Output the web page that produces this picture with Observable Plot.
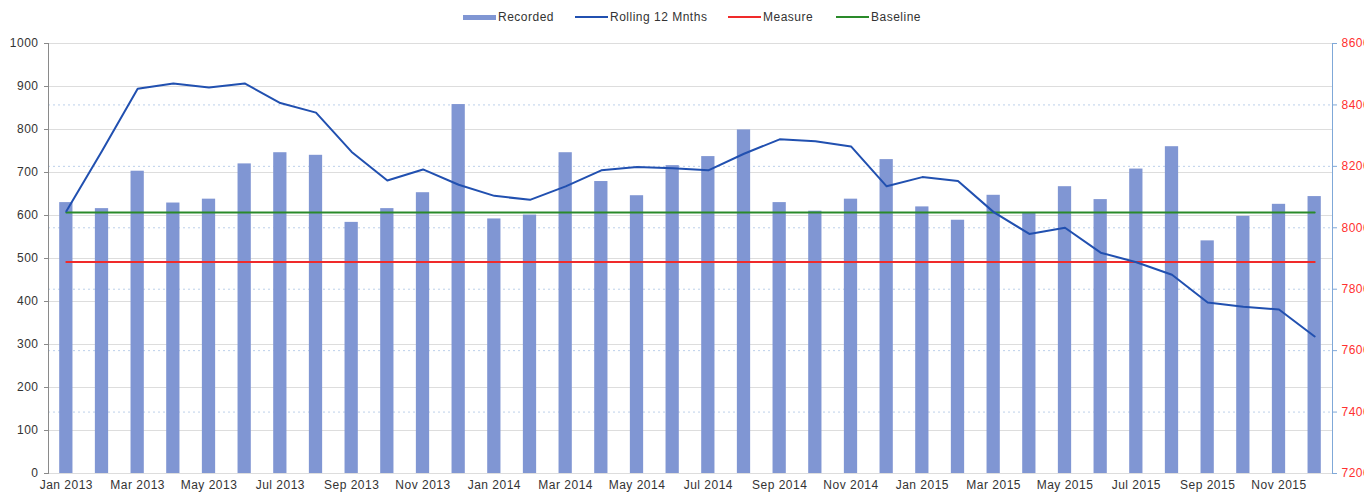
<!DOCTYPE html>
<html>
<head>
<meta charset="utf-8">
<script src="https://cdn.jsdelivr.net/npm/d3@7"></script>
<script src="https://cdn.jsdelivr.net/npm/@observablehq/plot@0.6"></script>
<style>
html, body { margin: 0; padding: 0; background: #fff; overflow: hidden; }
#legend { position: relative; height: 30px; width: 1364px; font: 12px "Liberation Sans", Arial, sans-serif; letter-spacing: 0.5px; color: #333; }
.item { position: absolute; top: 10px; height: 14px; display: flex; align-items: center; white-space: nowrap; }
.sw { display: inline-block; width: 33px; margin-right: 2px; }
svg text { font-family: "Liberation Sans", Arial, sans-serif; font-size: 12px; letter-spacing: 0.5px; }
</style>
</head>
<body>
<div id="legend"></div>
<div id="chart"></div>
<script>
const months = ["Jan 2013","Feb 2013","Mar 2013","Apr 2013","May 2013","Jun 2013","Jul 2013","Aug 2013","Sep 2013","Oct 2013","Nov 2013","Dec 2013",
  "Jan 2014","Feb 2014","Mar 2014","Apr 2014","May 2014","Jun 2014","Jul 2014","Aug 2014","Sep 2014","Oct 2014","Nov 2014","Dec 2014",
  "Jan 2015","Feb 2015","Mar 2015","Apr 2015","May 2015","Jun 2015","Jul 2015","Aug 2015","Sep 2015","Oct 2015","Nov 2015","Dec 2015"];
const recorded = [630,616,703,629,638,720,746,740,584,616,653,858,
  592,601,746,679,646,716,737,799,630,610,638,730,
  620,589,647,607,667,637,708,760,541,598,626,644];
const rolling12 = [8054,8250,8453,8470,8457,8470,8406,8375,8247,8154,8190,8140,
  8104,8091,8135,8187,8198,8194,8187,8241,8288,8282,8265,8135,
  8165,8152,8051,7980,8000,7919,7888,7847,7757,7743,7734,7646];
const measureValue = 492;
const baselineValue = 607;
const leftTicks = [0,100,200,300,400,500,600,700,800,900,1000];
const rightTicks = [7200,7400,7600,7800,8000,8200,8400,8600];
const seriesNames = ["Recorded","Rolling 12 Mnths","Measure","Baseline"];
const seriesColors = ["#8096d3","#2150b0","#f02a2a","#2a8a2a"];

// right axis (7200–8600) mapped onto the left scale (0–1000)
const rMin = 7200, rMax = 8600, lMax = 1000;
const toLeft = r => (r - rMin) / (rMax - rMin) * lMax;
const toRight = v => v / lMax * (rMax - rMin) + rMin;

const data = months.map((m, i) => ({month: m, recorded: recorded[i], rolling: rolling12[i], measure: measureValue, baseline: baselineValue}));

// legend
const legendPos = [463, 575, 728, 836];
const legend = document.getElementById("legend");
seriesNames.forEach((name, i) => {
  const it = document.createElement("div");
  it.className = "item";
  it.style.left = legendPos[i] + "px";
  const sw = document.createElement("span");
  sw.className = "sw";
  sw.style.height = i === 0 ? "5px" : "2px";
  sw.style.background = seriesColors[i];
  it.appendChild(sw);
  it.appendChild(document.createTextNode(name));
  legend.appendChild(it);
});

const chart = Plot.plot({
  width: 1364,
  height: 462,
  marginTop: 13,
  marginBottom: 19,
  marginLeft: 48,
  marginRight: 32,
  style: {background: "#fff", fontFamily: "Liberation Sans, Arial, sans-serif", fontSize: "12px"},
  x: {type: "band", domain: months, padding: 0, round: false},
  y: {domain: [0, 1000]},
  marks: [
    Plot.gridY(leftTicks, {stroke: "#dddddd", strokeOpacity: 1}),
    Plot.gridY(rightTicks.slice(1, -1).map(toLeft), {stroke: "#bcd0ea", strokeOpacity: 1, strokeDasharray: "2,3"}),
    Plot.barY(data, {x: "month", y: "recorded", fill: seriesColors[0], insetLeft: 11.2, insetRight: 11.2}),
    Plot.lineY(data, {x: "month", y: "measure", stroke: seriesColors[2], strokeWidth: 2}),
    Plot.lineY(data, {x: "month", y: "baseline", stroke: seriesColors[3], strokeWidth: 2}),
    Plot.lineY(data, {x: "month", y: d => toLeft(d.rolling), stroke: seriesColors[1], strokeWidth: 2}),
    Plot.frame({anchor: "left", stroke: "#8a8a8a"}),
    Plot.frame({anchor: "right", stroke: "#7fa8d8"}),
    Plot.axisY(leftTicks, {anchor: "left", tickSize: 4, tickPadding: 6, tickFormat: d => String(d), stroke: "#8a8a8a", fill: "#333", label: null}),
    Plot.axisY(rightTicks.map(toLeft), {anchor: "right", tickSize: 4, tickPadding: 5, tickFormat: v => String(Math.round(toRight(v))), stroke: "#7fa8d8", fill: "#ff3030", label: null}),
    Plot.axisX(months.filter((d, i) => i % 2 === 0), {tickSize: 0, tickPadding: 7, fill: "#333", label: null})
  ]
});
document.getElementById("chart").appendChild(chart);
</script>
</body>
</html>
